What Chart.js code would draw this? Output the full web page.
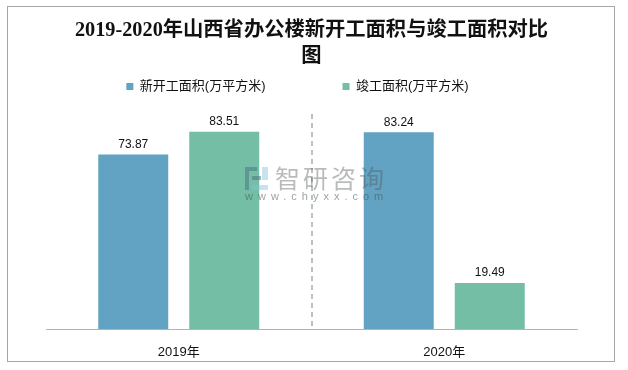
<!DOCTYPE html>
<html>
<head>
<meta charset="utf-8">
<style>
  html, body { margin: 0; padding: 0; background: #fff; }
  #wrap { width: 628px; height: 370px; position: relative; }
</style>
<script src="https://cdn.jsdelivr.net/npm/chart.js@4/dist/chart.umd.min.js"></script>
</head>
<body>
<div id="wrap"><canvas id="myChart" width="628" height="370"></canvas></div>
<script>
const categories = ['2019年', '2020年'];
const newStarts = [73.87, 83.24];
const completed = [83.51, 19.49];
const seriesNames = ['新开工面积(万平方米)', '竣工面积(万平方米)'];
const titleLines = ['2019-2020年山西省办公楼新开工面积与竣工面积对比', '图'];

const cjk = '"Liberation Sans", "Noto Sans CJK SC", sans-serif';

// legend needs a wide gap between items, so keep its box short and move it by hand
const legendFix = {
  id: 'legendFix',
  beforeInit(chart) {
    const fit = chart.legend.fit;
    chart.legend.fit = function () {
      fit.call(this);
      this.height = 40;
    };
  },
  afterLayout(chart) {
    const l = chart.legend;
    l.top = 3;
    l.left -= 14;
    l.right -= 14;
  }
};

const valueLabels = {
  id: 'valueLabels',
  afterDatasetsDraw(chart) {
    const c = chart.ctx;
    c.save();
    c.font = '12px ' + cjk;
    c.fillStyle = '#111';
    c.textAlign = 'center';
    c.textBaseline = 'middle';
    chart.data.datasets.forEach((ds, i) => {
      chart.getDatasetMeta(i).data.forEach((bar, j) => {
        c.fillText(ds.data[j].toFixed(2), bar.x, bar.y - 10);
      });
    });
    c.restore();
  }
};

const frameAndMark = {
  id: 'frameAndMark',
  afterDraw(chart) {
    const c = chart.ctx;
    c.save();
    c.strokeStyle = '#a6a6a6';
    c.lineWidth = 1;
    c.strokeRect(7.5, 6.5, 607, 355);

    // watermark
    c.fillStyle = 'rgba(70,110,125,0.5)';
    c.fillRect(245, 167, 12, 4);
    c.fillRect(245, 171, 4, 19);
    c.fillRect(252, 176, 9, 4);
    c.fillStyle = 'rgba(130,190,225,0.45)';
    c.fillRect(262, 167, 6, 13);
    c.fillRect(252, 185, 16, 5);
    c.fillStyle = 'rgba(80,85,85,0.4)';
    c.font = '25px "Noto Sans CJK SC", sans-serif';
    c.textAlign = 'left';
    c.textBaseline = 'middle';
    c.letterSpacing = '3px';
    c.fillText('智研咨询', 275, 178);
    c.fillStyle = 'rgba(70,85,85,0.55)';
    c.font = '11px ' + cjk;
    c.letterSpacing = '5px';
    c.fillText('www.chyxx.com', 245, 197);
    c.restore();
  }
};

const ctx = document.getElementById('myChart').getContext('2d');

new Chart(ctx, {
  type: 'bar',
  data: {
    labels: categories,
    datasets: [
      { label: seriesNames[0], data: newStarts, backgroundColor: '#62a2c2' },
      { label: seriesNames[1], data: completed, backgroundColor: '#75bea6' }
    ]
  },
  options: {
    responsive: false,
    animation: false,
    layout: { padding: { left: 46, right: 51, top: 0, bottom: 0 } },
    datasets: { bar: { categoryPercentage: 0.6855, barPercentage: 0.769 } },
    scales: {
      x: {
        afterFit: s => { s.height = 41; },
        grid: {
          offset: true,
          drawTicks: false,
          lineWidth: 2,
          color: c => (c.index === 1 ? '#bfbfbf' : 'transparent'),
          tickColor: 'transparent'
        },
        border: { display: true, color: '#b3b3b3', width: 1, dash: [5, 4] },
        ticks: {
          color: '#111',
          padding: 16,
          maxRotation: 0,
          font: { family: cjk, size: 13 }
        }
      },
      y: { display: false, min: 0, max: 91 }
    },
    plugins: {
      title: {
        display: true,
        text: titleLines,
        color: '#111',
        padding: { top: 18, bottom: 4 },
        font: { family: '"Liberation Serif", "Noto Sans CJK SC", serif', size: 20.3, weight: 'bold', lineHeight: 1.28 }
      },
      legend: {
        display: true,
        labels: {
          color: '#111',
          boxWidth: 7,
          boxHeight: 7,
          padding: 77,
          font: { family: cjk, size: 13 }
        }
      },
      tooltip: { enabled: false }
    }
  },
  plugins: [legendFix, valueLabels, frameAndMark]
});
</script>
</body>
</html>
